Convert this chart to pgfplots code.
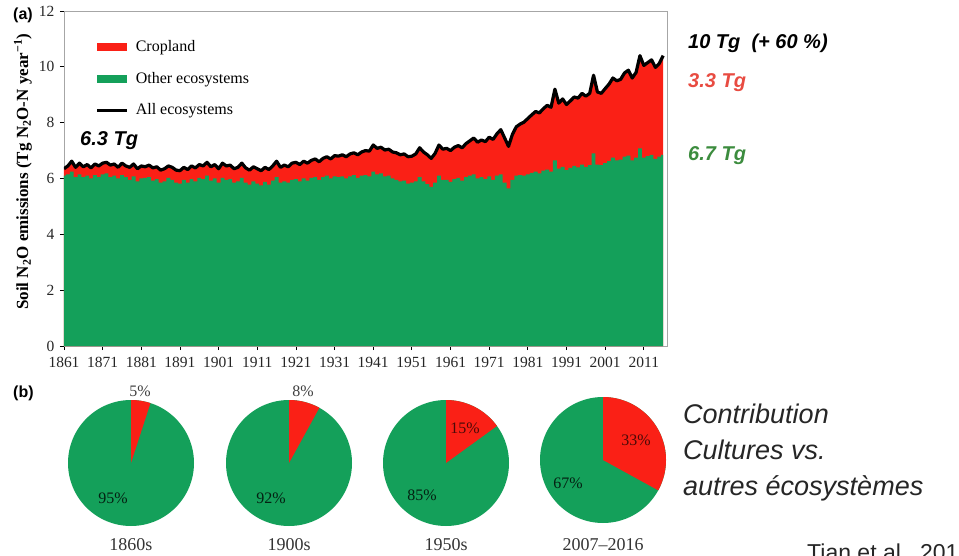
\documentclass[border=0pt]{standalone}
\usepackage{pgfplots}
\pgfplotsset{compat=1.18}
\usepackage{pgfplotstable}
\usepackage{fontspec}
\setmainfont{Liberation Serif}
\newfontfamily\arial{Liberation Sans}
\definecolor{crop}{RGB}{250,32,22}
\definecolor{eco}{RGB}{20,160,90}
\definecolor{txtred}{RGB}{232,75,65}
\definecolor{txtgreen}{RGB}{60,140,62}

\pgfplotstableread{
year total other
1861 6.35 6.10
1862 6.45 6.15
1863 6.62 6.25
1864 6.40 6.05
1865 6.55 6.15
1866 6.42 6.05
1867 6.50 6.10
1868 6.38 6.00
1869 6.52 6.12
1870 6.45 6.05
1871 6.55 6.15
1872 6.58 6.18
1873 6.48 6.05
1874 6.52 6.10
1875 6.40 6.00
1876 6.55 6.12
1877 6.45 6.05
1878 6.40 5.95
1879 6.52 6.08
1880 6.35 5.90
1881 6.45 6.00
1882 6.42 6.02
1883 6.48 6.05
1884 6.38 5.92
1885 6.42 5.98
1886 6.30 5.85
1887 6.35 5.90
1888 6.45 6.02
1889 6.40 5.95
1890 6.30 5.85
1891 6.28 5.82
1892 6.40 5.95
1893 6.32 5.85
1894 6.45 5.98
1895 6.38 5.90
1896 6.50 6.02
1897 6.45 5.98
1898 6.58 6.10
1899 6.42 5.92
1900 6.50 6.00
1901 6.35 5.85
1902 6.55 6.02
1903 6.45 5.95
1904 6.48 5.98
1905 6.35 5.85
1906 6.40 5.90
1907 6.55 6.02
1908 6.38 5.85
1909 6.30 5.78
1910 6.42 5.90
1911 6.35 5.82
1912 6.28 5.75
1913 6.40 5.88
1914 6.32 5.78
1915 6.45 5.92
1916 6.62 6.05
1917 6.40 5.85
1918 6.48 5.90
1919 6.42 5.85
1920 6.55 5.95
1921 6.58 5.98
1922 6.50 5.90
1923 6.62 6.00
1924 6.55 5.92
1925 6.65 6.02
1926 6.70 6.05
1927 6.60 5.95
1928 6.72 6.05
1929 6.78 6.10
1930 6.70 6.00
1931 6.82 6.08
1932 6.80 6.05
1933 6.85 6.08
1934 6.78 6.00
1935 6.88 6.08
1936 6.92 6.12
1937 6.85 6.02
1938 6.95 6.10
1939 7.00 6.12
1940 6.98 6.08
1941 7.20 6.25
1942 7.08 6.15
1943 7.12 6.18
1944 7.02 6.08
1945 7.05 6.10
1946 6.95 6.00
1947 6.92 5.95
1948 6.85 5.90
1949 6.88 5.92
1950 6.78 5.82
1951 6.80 5.85
1952 6.88 5.90
1953 7.10 6.05
1954 6.95 5.90
1955 6.85 5.80
1956 6.72 5.70
1957 6.90 5.85
1958 7.20 6.10
1959 7.05 5.95
1960 7.08 5.95
1961 7.00 5.88
1962 7.12 5.98
1963 7.18 6.02
1964 7.10 5.92
1965 7.25 6.05
1966 7.35 6.10
1967 7.45 6.15
1968 7.30 6.00
1969 7.38 6.05
1970 7.32 5.98
1971 7.48 6.08
1972 7.40 5.95
1973 7.60 6.10
1974 7.75 6.15
1975 7.45 5.85
1976 7.15 5.65
1977 7.58 5.95
1978 7.85 6.10
1979 7.95 6.12
1980 8.02 6.10
1981 8.15 6.15
1982 8.28 6.20
1983 8.40 6.25
1984 8.35 6.18
1985 8.50 6.28
1986 8.62 6.32
1987 8.55 6.25
1988 9.20 6.65
1989 8.70 6.35
1990 8.85 6.42
1991 8.65 6.30
1992 8.78 6.38
1993 8.92 6.45
1994 8.88 6.40
1995 9.05 6.50
1996 8.95 6.42
1997 9.05 6.48
1998 9.70 6.90
1999 9.10 6.50
2000 9.05 6.48
2001 9.22 6.55
2002 9.38 6.62
2003 9.60 6.75
2004 9.50 6.65
2005 9.55 6.68
2006 9.78 6.78
2007 9.88 6.82
2008 9.60 6.65
2009 9.80 6.75
2010 10.40 7.08
2011 10.05 6.75
2012 10.15 6.80
2013 10.25 6.85
2014 9.98 6.70
2015 10.12 6.78
2016 10.40 6.85
}\datatable

\begin{document}
\begin{tikzpicture}
\useasboundingbox (0pt,0pt) rectangle (959pt,-556pt);
\begin{axis}[
  at={(64pt,-346pt)}, anchor=south west,
  scale only axis, width=603pt, height=335pt,
  xmin=1861, xmax=2017, ymin=0, ymax=12,
  xtick={1861,1871,...,2011}, ytick={0,2,...,12},
  tick align=outside, xtick pos=left, ytick pos=left,
  axis line style={gray!70, line width=0.8pt},
  tick style={black, line width=0.8pt}, major tick length=4pt,
  /pgf/number format/set thousands separator={},
  /pgf/number format/assume math mode=true,
  tick label style={font=\fontsize{15.5}{17}\selectfont, text=black!85},
  xticklabel style={yshift=-4pt},
  yticklabel style={xshift=-2pt},
  ylabel={Soil N\textsubscript{2}O emissions (Tg N\textsubscript{2}O-N year\textsuperscript{−1})},
  ylabel style={font=\bfseries\fontsize{17}{19}\selectfont, at={(axis description cs:-0.068,0.52)}, anchor=center},
  legend style={at={(0.052,0.918)}, anchor=north west, draw=none, fill=none,
    font=\fontsize{16}{18}\selectfont, row sep=15pt, inner sep=0pt,
    nodes={inner sep=2pt},
    /tikz/every odd column/.append style={column sep=5pt}},
  legend cell align=left,
]
\addplot[fill=crop, draw=none,
  legend image code/.code={\fill[crop] (0pt,-4pt) rectangle (30pt,4pt);}]
  table[x=year, y=total] {\datatable} \closedcycle;
\addlegendentry{Cropland}
\addplot[fill=eco, draw=none, const plot mark mid,
  legend image code/.code={\fill[eco] (0pt,-4pt) rectangle (30pt,4pt);}]
  table[x=year, y=other] {\datatable} \closedcycle;
\addlegendentry{Other ecosystems}
\addplot[black, line width=3.2pt, line join=round,
  legend image code/.code={\draw[black,line width=3.2pt] (0pt,0pt) -- (30pt,0pt);}]
  table[x=year, y=total] {\datatable};
\addlegendentry{All ecosystems}
\end{axis}

% pies
\begin{axis}[
  at={(0pt,-556pt)}, anchor=south west, hide axis,
  x=1pt, y=1pt, xmin=0, xmax=959, ymin=-556, ymax=-370, clip=false]
\fill[eco] (axis cs:131,-463) circle[radius=63pt];
\fill[crop] (axis cs:131,-463) -- ++(0pt,63pt) arc[start angle=90, end angle=72, radius=63pt] -- cycle;
\fill[eco] (axis cs:289,-463) circle[radius=63pt];
\fill[crop] (axis cs:289,-463) -- ++(0pt,63pt) arc[start angle=90, end angle=61.2, radius=63pt] -- cycle;
\fill[eco] (axis cs:446,-463) circle[radius=63pt];
\fill[crop] (axis cs:446,-463) -- ++(0pt,63pt) arc[start angle=90, end angle=36, radius=63pt] -- cycle;
\fill[eco] (axis cs:603,-460) circle[radius=63pt];
\fill[crop] (axis cs:603,-460) -- ++(0pt,63pt) arc[start angle=90, end angle=-28.8, radius=63pt] -- cycle;
\end{axis}

% pie labels
\begin{scope}[every node/.style={font=\fontsize{16}{18}\selectfont, inner sep=0pt}]
\node[text=black!75] at (140pt,-391pt) {5\%};
\node[text=black!75] at (303pt,-391pt) {8\%};
\node[text=black!80!eco] at (113pt,-498pt) {95\%};
\node[text=black!80!eco] at (271pt,-498pt) {92\%};
\node[text=black!80!eco] at (422pt,-495pt) {85\%};
\node[text=black!70!crop] at (465pt,-428pt) {15\%};
\node[text=black!70!crop] at (636pt,-440pt) {33\%};
\node[text=black!80!eco] at (568pt,-483pt) {67\%};
\end{scope}
\begin{scope}[every node/.style={font=\fontsize{18}{20}\selectfont, inner sep=0pt, text=black!80}]
\node at (131pt,-545pt) {1860s};
\node at (289pt,-545pt) {1900s};
\node at (446pt,-545pt) {1950s};
\node at (603pt,-545pt) {2007–2016};
\end{scope}

% annotations
\node[anchor=west, inner sep=0pt, font=\arial\bfseries\fontsize{16}{18}\selectfont] at (13pt,-15pt) {(a)};
\node[anchor=west, inner sep=0pt, font=\arial\bfseries\fontsize{16}{18}\selectfont] at (13pt,-393pt) {(b)};
\node[anchor=west, inner sep=0pt, font=\arial\bfseries\itshape\fontsize{20}{22}\selectfont] at (80pt,-141pt) {6.3 Tg};
\node[anchor=west, inner sep=0pt, font=\arial\bfseries\itshape\fontsize{20}{22}\selectfont] at (688pt,-43pt) {10 Tg\ \ (+ 60 \%)};
\node[anchor=west, inner sep=0pt, text=txtred, font=\arial\bfseries\itshape\fontsize{20}{22}\selectfont] at (688pt,-83pt) {3.3 Tg};
\node[anchor=west, inner sep=0pt, text=txtgreen, font=\arial\bfseries\itshape\fontsize{20}{22}\selectfont] at (688pt,-156pt) {6.7 Tg};
\begin{scope}[every node/.style={anchor=base west, inner sep=0pt, font=\arial\itshape\fontsize{27}{30}\selectfont, text=black!85}]
\node at (683pt,-423pt) {Contribution};
\node at (683pt,-459pt) {Cultures vs.};
\node at (683pt,-495pt) {autres écosystèmes};
\end{scope}
\node[anchor=base west, inner sep=0pt, font=\arial\fontsize{23}{25}\selectfont, text=black!85] at (807pt,-560pt) {Tian et al., 2019};
\end{tikzpicture}
\end{document}
